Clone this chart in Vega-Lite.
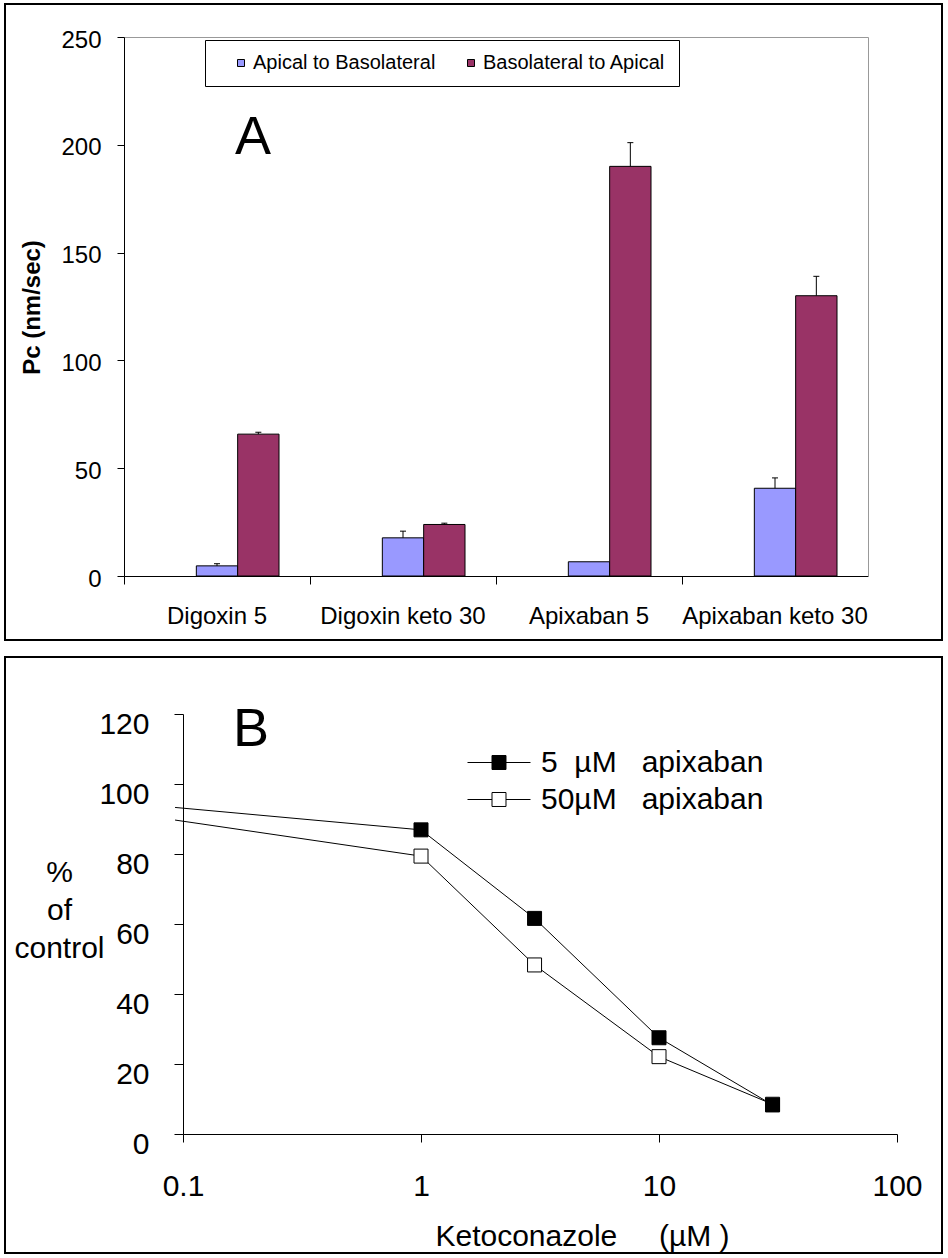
{
  "$schema": "https://vega.github.io/schema/vega-lite/v6.json",
  "background": "white",
  "padding": {"left": 4, "top": 3, "right": 0, "bottom": 0},
  "spacing": 15,
  "config": {
    "font": "Liberation Sans",
    "view": {"stroke": "black", "strokeWidth": 2},
    "axis": {"labelColor": "black", "titleColor": "black", "domainColor": "black", "tickColor": "black", "grid": false, "labelFont": "Liberation Sans", "titleFont": "Liberation Sans", "domainWidth": 1, "tickWidth": 1},
    "legend": {"labelFont": "Liberation Sans", "labelColor": "black"},
    "title": {"font": "Liberation Sans", "color": "black"}
  },
  "datasets": {
    "bars": [
      {"drug": "Digoxin 5", "dir": "Apical to Basolateral", "value": 4.7, "upper": 5.7},
      {"drug": "Digoxin 5", "dir": "Basolateral to Apical", "value": 65.8, "upper": 66.7},
      {"drug": "Digoxin keto 30", "dir": "Apical to Basolateral", "value": 17.7, "upper": 20.8},
      {"drug": "Digoxin keto 30", "dir": "Basolateral to Apical", "value": 23.9, "upper": 24.5},
      {"drug": "Apixaban 5", "dir": "Apical to Basolateral", "value": 6.6, "upper": null},
      {"drug": "Apixaban 5", "dir": "Basolateral to Apical", "value": 190, "upper": 201},
      {"drug": "Apixaban keto 30", "dir": "Apical to Basolateral", "value": 40.7, "upper": 45.5},
      {"drug": "Apixaban keto 30", "dir": "Basolateral to Apical", "value": 130, "upper": 139}
    ],
    "curve": [
      {"series": "50µM\u00a0\u00a0\u00a0apixaban", "conc": 0.0926, "pct": 89.7},
      {"series": "50µM\u00a0\u00a0\u00a0apixaban", "conc": 1, "pct": 79.4},
      {"series": "50µM\u00a0\u00a0\u00a0apixaban", "conc": 3, "pct": 48.3},
      {"series": "50µM\u00a0\u00a0\u00a0apixaban", "conc": 10, "pct": 22.1},
      {"series": "50µM\u00a0\u00a0\u00a0apixaban", "conc": 30, "pct": 8.5},
      {"series": "5\u00a0\u00a0µM\u00a0\u00a0\u00a0apixaban", "conc": 0.0926, "pct": 93.3},
      {"series": "5\u00a0\u00a0µM\u00a0\u00a0\u00a0apixaban", "conc": 1, "pct": 86.9},
      {"series": "5\u00a0\u00a0µM\u00a0\u00a0\u00a0apixaban", "conc": 3, "pct": 61.6},
      {"series": "5\u00a0\u00a0µM\u00a0\u00a0\u00a0apixaban", "conc": 10, "pct": 27.5},
      {"series": "5\u00a0\u00a0µM\u00a0\u00a0\u00a0apixaban", "conc": 30, "pct": 8.3}
    ]
  },
  "vconcat": [
    {
      "width": 937,
      "height": 636,
      "title": {"text": "A", "anchor": "start", "frame": "group", "orient": "top", "offset": 0, "dx": 230, "dy": 204, "baseline": "alphabetic", "fontSize": 54, "fontWeight": "normal"},
      "resolve": {"axis": {"x": "independent", "y": "independent"}},
      "layer": [
        {
          "data": {"name": "bars"},
          "mark": {"type": "bar", "stroke": "black", "strokeWidth": 1},
          "encoding": {
            "x": {
              "field": "drug", "type": "nominal",
              "sort": ["Digoxin 5", "Digoxin keto 30", "Apixaban 5", "Apixaban keto 30"],
              "scale": {"range": [119, 863], "paddingInner": 0, "paddingOuter": 0},
              "axis": {"orient": "bottom", "offset": -64, "bandPosition": 0, "labelAngle": 0, "labelFontSize": 24, "labelPadding": 20, "tickSize": 8, "title": null, "labelLimit": 400, "labelOverlap": false}
            },
            "xOffset": {"field": "dir", "type": "nominal", "scale": {"domain": ["", "Apical to Basolateral", "Basolateral to Apical"], "paddingInner": 0, "paddingOuter": 0.75}},
            "y": {
              "field": "value", "type": "quantitative",
              "scale": {"domain": [0, 250], "range": [572, 33], "nice": false},
              "axis": {"orient": "left", "offset": -119, "values": [0, 50, 100, 150, 200, 250], "tickSize": 7, "labelFontSize": 24, "labelPadding": 16, "labelBaseline": "alphabetic", "labelOffset": 10, "title": "Pc (nm/sec)", "titleFontSize": 24, "titleFontWeight": "bold", "titleAngle": -90, "titleBaseline": "middle", "titleAlign": "center", "titleX": -92, "titleY": 303}
            },
            "color": {
              "field": "dir", "type": "nominal",
              "scale": {"domain": ["Apical to Basolateral", "Basolateral to Apical"], "range": ["#9999FF", "#993366"]},
              "legend": {"orient": "none", "legendX": 200, "legendY": 36, "direction": "horizontal", "title": "\u00a0", "titleOrient": "left", "titleFontSize": 1, "titlePadding": 13, "symbolType": "square", "symbolSize": 49, "symbolStrokeColor": "black", "symbolStrokeWidth": 1, "labelFontSize": 20, "labelOffset": 2, "columnPadding": 25, "padding": 13, "strokeColor": "black", "fillColor": "white", "labelLimit": 400}
            }
          }
        },
        {
          "data": {"name": "bars"},
          "transform": [{"filter": "isValid(datum.upper)"}],
          "mark": {"type": "rule", "color": "black", "strokeWidth": 1},
          "encoding": {
            "x": {"field": "drug", "type": "nominal", "sort": ["Digoxin 5", "Digoxin keto 30", "Apixaban 5", "Apixaban keto 30"],
              "axis": {"orient": "top", "offset": -33, "ticks": false, "labels": false, "domainColor": "#999999", "title": null}},
            "xOffset": {"field": "dir", "type": "nominal"},
            "y": {"field": "value", "type": "quantitative",
              "axis": {"orient": "right", "offset": -74, "ticks": false, "labels": false, "domainColor": "#999999", "title": null}},
            "y2": {"field": "upper"}
          }
        },
        {
          "data": {"name": "bars"},
          "transform": [{"filter": "isValid(datum.upper)"}],
          "mark": {"type": "tick", "color": "black", "size": 6, "thickness": 1, "opacity": 1},
          "encoding": {
            "x": {"field": "drug", "type": "nominal", "sort": ["Digoxin 5", "Digoxin keto 30", "Apixaban 5", "Apixaban keto 30"], "axis": null},
            "xOffset": {"field": "dir", "type": "nominal"},
            "y": {"field": "upper", "type": "quantitative", "axis": null}
          }
        }
      ]
    },
    {
      "width": 937,
      "height": 596,
      "title": {"text": "B", "anchor": "start", "frame": "group", "orient": "top", "offset": 0, "dx": 228, "dy": 143, "baseline": "alphabetic", "fontSize": 54, "fontWeight": "normal"},
      "layer": [
        {
          "data": {"name": "curve"},
          "mark": {"type": "line", "color": "black", "strokeWidth": 1},
          "encoding": {
            "x": {
              "field": "conc", "type": "quantitative",
              "scale": {"type": "log", "domain": [0.1, 100], "range": [178, 892], "nice": false},
              "axis": {"orient": "bottom", "offset": -119, "values": [0.1, 1, 10, 100], "format": "~g", "tickSize": 8, "labelFontSize": 30, "labelPadding": 29, "labelFlush": false, "labelOverlap": false, "title": "Ketoconazole\u00a0\u00a0\u00a0\u00a0\u00a0(µM )", "titleFontSize": 30, "titleFontWeight": "normal", "titleX": 577, "titleY": 111, "titleBaseline": "alphabetic", "titleAlign": "center"}
            },
            "y": {
              "field": "pct", "type": "quantitative",
              "scale": {"domain": [0, 120], "range": [477, 57], "nice": false},
              "axis": {"orient": "left", "offset": -178, "values": [0, 20, 40, 60, 80, 100, 120], "tickSize": 9, "labelFontSize": 30, "labelPadding": 25, "labelBaseline": "alphabetic", "labelOffset": 19, "labelFlush": false, "labelOverlap": false, "title": ["%", "of", "control"], "titleFontSize": 30, "titleFontWeight": "normal", "titleAngle": 0, "titleAlign": "center", "titleBaseline": "alphabetic", "titleX": -124, "titleY": 224, "titleLineHeight": 38}
            },
            "detail": {"field": "series", "type": "nominal"},
            "order": {"field": "conc", "type": "quantitative"}
          }
        },
        {
          "data": {"name": "curve"},
          "transform": [{"filter": "datum.conc >= 1"}],
          "mark": {"type": "square", "size": 196, "stroke": "black", "strokeWidth": 1, "opacity": 1, "filled": true},
          "encoding": {
            "x": {"field": "conc", "type": "quantitative"},
            "y": {"field": "pct", "type": "quantitative"},
            "fill": {
              "field": "series", "type": "nominal",
              "scale": {"domain": ["5\u00a0\u00a0µM\u00a0\u00a0\u00a0apixaban", "50µM\u00a0\u00a0\u00a0apixaban"], "range": ["black", "white"]},
              "legend": {"orient": "none", "legendX": 462, "legendY": 740, "direction": "vertical", "title": null, "symbolType": "M-1,0H-0.222M0.222,0H1M-0.222,-0.222H0.222V0.222H-0.222Z", "symbolSize": 3969, "symbolStrokeColor": "black", "symbolStrokeWidth": 1, "labelFontSize": 30, "labelOffset": 10, "clipHeight": 37, "rowPadding": 0, "padding": 0, "labelLimit": 500}
            }
          }
        }
      ]
    }
  ]
}
